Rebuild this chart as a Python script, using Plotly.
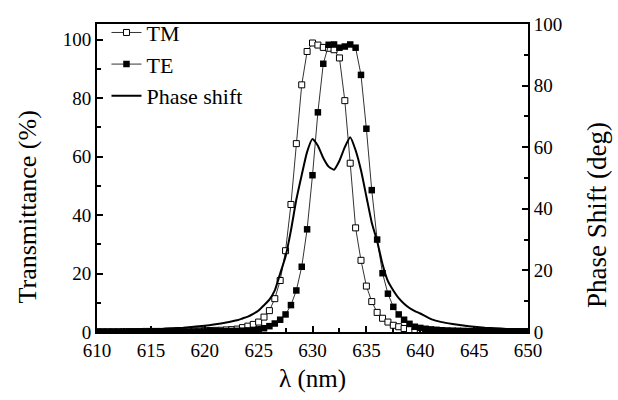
import numpy as np
import plotly.graph_objects as go

# Wavelength grid for TM / TE (nm)
wl = [610 + 0.5 * i for i in range(81)]

tm = [0.1, 0.1, 0.1, 0.1, 0.1, 0.1, 0.15, 0.15, 0.15, 0.2,
      0.2, 0.2, 0.2, 0.25, 0.25, 0.3, 0.3, 0.35, 0.4, 0.4,
      0.45, 0.5, 0.55, 0.6, 0.7, 0.8, 1.0, 1.5, 2.0, 2.6,
      3.4, 5.1, 7.3, 11.4, 17.6, 27.8, 43.6, 64.4, 84.5, 95.9,
      98.8, 98.1, 97.3, 97.0, 96.5, 93.7, 79.1, 57.7, 35.6, 24.5,
      15.7, 10.4, 6.7, 4.7, 3.4, 2.3, 1.8, 1.2, 0.8, 0.5,
      0.4, 0.35, 0.3, 0.3, 0.25, 0.25, 0.2, 0.2, 0.2, 0.15,
      0.15, 0.15, 0.15, 0.1, 0.1, 0.1, 0.1, 0.1, 0.1, 0.1, 0.1]

te = [0.05, 0.05, 0.05, 0.05, 0.05, 0.05, 0.05, 0.05, 0.05, 0.1,
      0.1, 0.1, 0.1, 0.1, 0.15, 0.15, 0.15, 0.15, 0.2, 0.2,
      0.2, 0.25, 0.25, 0.3, 0.3, 0.35, 0.4, 0.45, 0.55, 0.7,
      0.9, 1.3, 2.0, 2.9, 4.2, 6.0, 9.2, 14.2, 22.3, 35.1,
      53.6, 75.1, 91.7, 98.2, 98.3, 97.2, 97.6, 98.3, 97.2, 87.9,
      69.5, 48.5, 31.6, 20.1, 13.1, 8.6, 6.0, 4.2, 2.8, 1.8,
      1.4, 1.1, 0.9, 0.75, 0.6, 0.5, 0.45, 0.4, 0.35, 0.3,
      0.3, 0.25, 0.25, 0.2, 0.2, 0.2, 0.15, 0.15, 0.15, 0.15, 0.15]

# Phase shift (deg)
wl_ph = [610, 612, 614, 615, 616, 617, 618, 619, 620, 621, 622, 623, 623.5,
         624, 624.5, 625, 625.5, 626, 626.5, 627, 627.5, 628, 628.5, 629,
         629.5, 630, 630.5, 631, 631.5, 632, 632.5, 633, 633.5, 634, 634.5,
         635, 635.5, 636, 636.5, 637, 637.5, 638, 638.5, 639, 639.5, 640,
         641, 642, 643, 644, 645, 646, 647, 648, 649, 650]
phase = [0.3, 0.45, 0.7, 0.8, 1.0, 1.2, 1.4, 1.7, 2.0, 2.5, 3.1, 3.8, 4.4,
         5.0, 5.9, 7.0, 8.7, 10.5, 13.5, 19.0, 24.5, 33.0, 43.0, 51.0,
         58.5, 62.7, 60.5, 56.5, 53.7, 52.7, 55.6, 60.0, 63.2, 59.0, 52.5,
         44.0, 35.5, 29.5, 22.0, 16.5, 13.5, 11.0, 9.2, 7.8, 6.8, 6.0,
         4.2, 3.2, 2.6, 2.1, 1.7, 1.4, 1.2, 1.0, 0.9, 0.8]

FONT = "Liberation Serif"

fig = go.Figure()
fig.add_trace(go.Scatter(
    x=wl, y=tm, name="TM", mode="lines+markers",
    line=dict(color="#333", width=1),
    marker=dict(symbol="square", size=6, color="white",
                line=dict(color="black", width=1))))
fig.add_trace(go.Scatter(
    x=wl, y=te, name="TE", mode="lines+markers",
    line=dict(color="#333", width=1),
    marker=dict(symbol="square", size=6.5, color="black",
                line=dict(color="black", width=0))))
fig.add_trace(go.Scatter(
    x=wl_ph, y=phase, name="Phase shift", mode="lines", yaxis="y2",
    line=dict(color="black", width=2, shape="spline", smoothing=0.5)))

axis_common = dict(
    showline=True, linecolor="black", linewidth=2,
    ticks="inside", ticklen=6, tickwidth=1.5, tickcolor="black",
    showgrid=False, zeroline=False,
    tickfont=dict(family=FONT, size=19, color="black"),
)
minor_common = dict(ticks="inside", ticklen=4, tickcolor="black", tickwidth=1.5)

fig.update_layout(
    width=618, height=400,
    margin=dict(l=97, r=90, t=15, b=68),
    paper_bgcolor="white", plot_bgcolor="white",
    font=dict(family=FONT, color="black"),
    xaxis=dict(**axis_common, range=[610, 650], dtick=5, mirror=True,
               minor=dict(dtick=2.5, **minor_common),
               title=dict(text="λ (nm)", font=dict(family=FONT, size=25),
                          standoff=10)),
    yaxis=dict(**axis_common, range=[0, 105.3], dtick=20,
               minor=dict(dtick=10, **minor_common)),
    yaxis2=dict(**axis_common, range=[0, 100], dtick=20, side="right",
                overlaying="y",
                minor=dict(dtick=10, **minor_common)),
    legend=dict(x=0.022, y=1.04, xanchor="left", yanchor="top",
                bgcolor="rgba(0,0,0,0)", borderwidth=0,
                font=dict(family=FONT, size=22, color="black"),
                tracegroupgap=0),
    showlegend=True,
    annotations=[
        dict(text="Transmittance (%)", textangle=-90, showarrow=False,
             xref="paper", yref="paper", x=-0.162, y=0.405,
             xanchor="center", yanchor="middle",
             font=dict(family=FONT, size=26, color="black")),
        dict(text="Phase Shift (deg)", textangle=-90, showarrow=False,
             xref="paper", yref="paper", x=1.16, y=0.38,
             xanchor="center", yanchor="middle",
             font=dict(family=FONT, size=27, color="black")),
    ],
)

fig.write_html("out.html")
